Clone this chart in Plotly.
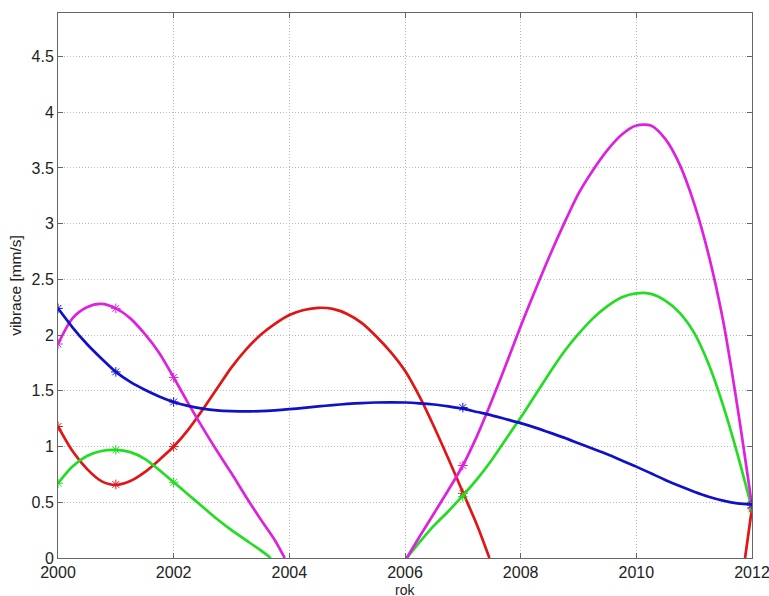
import plotly.graph_objects as go

# ---- data ----
blue_x = [2000, 2000.25, 2000.5, 2000.75, 2001, 2001.25, 2001.5, 2001.75, 2002, 2002.25, 2002.5,
          2002.75, 2003, 2003.25, 2003.5, 2003.75, 2004, 2004.25, 2004.5, 2004.75, 2005,
          2005.25, 2005.5, 2005.75, 2006, 2006.25, 2006.5, 2006.75, 2007, 2007.25, 2007.5,
          2007.75, 2008, 2008.25, 2008.5, 2008.75, 2009, 2009.25, 2009.5, 2009.75, 2010,
          2010.25, 2010.5, 2010.75, 2011, 2011.25, 2011.5, 2011.75, 2012]
blue_y = [2.24, 2.07, 1.92, 1.79, 1.67, 1.58, 1.51, 1.45, 1.40, 1.365, 1.34,
          1.325, 1.318, 1.315, 1.318, 1.325, 1.335, 1.347, 1.36, 1.372, 1.382,
          1.39, 1.395, 1.397, 1.395, 1.388, 1.377, 1.36, 1.34, 1.31, 1.28,
          1.245, 1.21, 1.17, 1.125, 1.08, 1.03, 0.98, 0.93, 0.875, 0.82,
          0.76, 0.70, 0.645, 0.595, 0.55, 0.515, 0.49, 0.48]

magenta_x = [2000, 2000.25, 2000.5, 2000.75, 2001, 2001.25, 2001.5, 2001.75, 2002, 2002.25,
             2002.5, 2002.75, 2003, 2003.25, 2003.5, 2003.75, 2003.92,
             None,
             2006.03, 2006.25, 2006.5, 2006.75, 2007, 2007.25, 2007.5, 2007.75, 2008,
             2008.25, 2008.5, 2008.75, 2009, 2009.25, 2009.5, 2009.75, 2010, 2010.25,
             2010.5, 2010.75, 2011, 2011.25, 2011.5, 2011.75, 2012]
magenta_y = [1.92, 2.15, 2.25, 2.28, 2.24, 2.15, 2.01, 1.84, 1.62, 1.39,
             1.17, 0.96, 0.76, 0.55, 0.35, 0.16, 0.0,
             None,
             0.0, 0.19, 0.40, 0.61, 0.83, 1.10, 1.41, 1.74, 2.08,
             2.40, 2.71, 3.00, 3.27, 3.48, 3.66, 3.80, 3.88, 3.88,
             3.76, 3.53, 3.18, 2.72, 2.13, 1.35, 0.47]

red_x = [2000, 2000.25, 2000.5, 2000.75, 2001, 2001.25, 2001.5, 2001.75, 2002, 2002.25,
         2002.5, 2002.75, 2003, 2003.25, 2003.5, 2003.75, 2004, 2004.25, 2004.5, 2004.75,
         2005, 2005.25, 2005.5, 2005.75, 2006, 2006.25, 2006.5, 2006.75, 2007, 2007.25,
         2007.46,
         None,
         2011.88, 2012]
red_y = [1.18, 0.96, 0.80, 0.69, 0.655, 0.69, 0.77, 0.88, 1.00, 1.15,
         1.33, 1.52, 1.71, 1.87, 2.00, 2.10, 2.18, 2.225, 2.245, 2.235,
         2.19, 2.11, 1.99, 1.85, 1.68, 1.45, 1.18, 0.89, 0.59, 0.29,
         0.0,
         None,
         0.0, 0.45]

green_x = [2000, 2000.25, 2000.5, 2000.75, 2001, 2001.25, 2001.5, 2001.75, 2002, 2002.25,
           2002.5, 2002.75, 2003, 2003.25, 2003.5, 2003.68,
           None,
           2006.03, 2006.25, 2006.5, 2006.75, 2007, 2007.25, 2007.5, 2007.75, 2008,
           2008.25, 2008.5, 2008.75, 2009, 2009.25, 2009.5, 2009.75, 2010, 2010.25,
           2010.5, 2010.75, 2011, 2011.25, 2011.5, 2011.75, 2012]
green_y = [0.67, 0.82, 0.915, 0.96, 0.97, 0.95, 0.89, 0.79, 0.68, 0.57,
           0.46, 0.35, 0.25, 0.16, 0.07, 0.0,
           None,
           0.0, 0.14, 0.29, 0.42, 0.56, 0.71, 0.88, 1.07, 1.26,
           1.46, 1.66, 1.85, 2.01, 2.15, 2.26, 2.34, 2.375, 2.37,
           2.31, 2.20, 2.02, 1.74, 1.37, 0.93, 0.44]

mark_years = [2000, 2001, 2002, 2007, 2012]
blue_m = [2.24, 1.67, 1.40, 1.35, 0.48]
magenta_m = [1.92, 2.24, 1.62, 0.83, 0.47]
red_m = [1.18, 0.66, 1.00, 0.58, 0.45]
green_m = [0.67, 0.97, 0.68, 0.55, 0.44]

x_ticks = [2000, 2002, 2004, 2006, 2008, 2010, 2012]
y_ticks = [0, 0.5, 1, 1.5, 2, 2.5, 3, 3.5, 4, 4.5]
y_tick_text = ["0", "0.5", "1", "1.5", "2", "2.5", "3", "3.5", "4", "4.5"]

colors = {"red": "#e01515", "green": "#22dd22", "magenta": "#dd22dd", "blue": "#1010c8"}

fig = go.Figure()
series = [
    (red_x, red_y, red_m, colors["red"]),
    (green_x, green_y, green_m, colors["green"]),
    (magenta_x, magenta_y, magenta_m, colors["magenta"]),
    (blue_x, blue_y, blue_m, colors["blue"]),
]
for xs, ys, ms, c in series:
    fig.add_trace(go.Scatter(x=xs, y=ys, mode="lines",
                             line=dict(color=c, width=2.7, shape="spline", smoothing=0.8),
                             connectgaps=False, showlegend=False, hoverinfo="skip"))
    fig.add_trace(go.Scatter(x=mark_years, y=ms, mode="markers",
                             marker=dict(symbol="asterisk-open", size=8, color=c,
                                         line=dict(color=c, width=1)),
                             showlegend=False, hoverinfo="skip"))

font_family = "Liberation Sans, Arial, sans-serif"
axis_common = dict(
    showline=True, linecolor="#666666", linewidth=1, mirror="ticks",
    ticks="inside", ticklen=5, tickcolor="#666666",
    showgrid=True, gridcolor="#b8b8b8", griddash="1px,2px", gridwidth=1,
    zeroline=False, automargin=False, ticklabeloverflow="allow",
    tickfont=dict(family=font_family, size=16, color="#222222"),
)

fig.update_xaxes(range=[2000, 2012], tickvals=x_ticks, ticktext=[str(v) for v in x_ticks],
                 **axis_common)
fig.update_yaxes(range=[0, 4.89], tickvals=y_ticks, ticktext=y_tick_text,
                 title=dict(text="vibrace [mm/s]", standoff=6,
                            font=dict(family=font_family, size=15.5, color="#222222")),
                 **axis_common)

fig.add_annotation(text="rok", xref="paper", yref="paper", x=0.5, y=-0.0585,
                   xanchor="center", yanchor="middle", showarrow=False, borderpad=0,
                   font=dict(family=font_family, size=14, color="#222222"))

fig.update_layout(width=769, height=596, margin=dict(l=58, r=17, t=13, b=38),
                  plot_bgcolor="white", paper_bgcolor="white")

fig.write_html("out.html")
